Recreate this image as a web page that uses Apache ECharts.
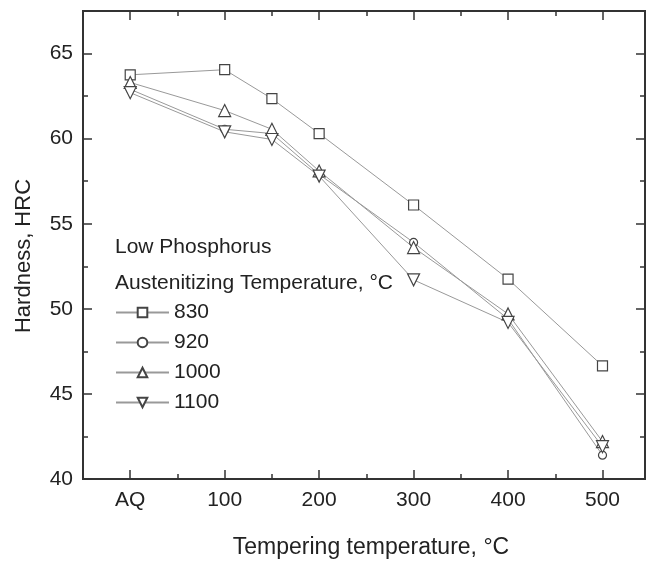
<!DOCTYPE html>
<html>
<head>
<meta charset="utf-8">
<script src="https://cdn.jsdelivr.net/npm/echarts@6/dist/echarts.min.js"></script>
<style>
  html, body { margin: 0; padding: 0; background: #fff; }
  #chart { width: 646px; height: 562px; }
</style>
</head>
<body>
<div id="chart"></div>
<script>
// tempering temperature (AQ = as quenched, drawn at 0)
const tempering = [0, 100, 150, 200, 300, 400, 500];
const xTickLabels = { 0: "AQ", 100: "100", 200: "200", 300: "300", 400: "400", 500: "500" };
const xMajor = [0, 100, 200, 300, 400, 500];
const xMinor = [50, 150, 250, 350, 450];
const yMajor = [40, 45, 50, 55, 60, 65];
const yMinor = [42.5, 47.5, 52.5, 57.5, 62.5];

// hardness HRC for each austenitizing temperature
const hrc830 = [63.75, 64.05, 62.35, 60.3, 56.1, 51.75, 46.65];
const hrc920 = [62.9, 60.55, 60.3, 57.9, 53.9, 49.4, 41.4];
const hrc1000 = [63.3, 61.65, 60.55, 58.1, 53.6, 49.7, 42.2];
const hrc1100 = [62.7, 60.4, 59.95, 57.8, 51.7, 49.2, 41.9];

const FONT = "'Liberation Sans', Arial, sans-serif";
const AXIS_COLOR = "#333";
const TEXT_COLOR = "#222";

const chart = echarts.init(document.getElementById("chart"));

function pairs(ys) {
  return tempering.map((x, i) => [x, ys[i]]);
}

// one axis per tick set, stacked on the same edge
function xAxisFor(pos, ticks, len, labels) {
  return {
    type: "value",
    position: pos,
    min: -50,
    max: 545,
    splitLine: { show: false },
    axisLine: { show: true, onZero: false, lineStyle: { color: AXIS_COLOR, width: 2 } },
    axisTick: { show: true, inside: true, length: len, customValues: ticks,
      lineStyle: { color: AXIS_COLOR, width: 1.5 } },
    axisLabel: labels
      ? { show: true, customValues: xMajor, margin: 11, fontSize: 21, fontFamily: FONT,
          color: TEXT_COLOR, formatter: (v) => xTickLabels[v] || "" }
      : { show: false },
  };
}

function yAxisFor(pos, ticks, len, labels) {
  return {
    type: "value",
    position: pos,
    min: 40,
    max: 67.5,
    splitLine: { show: false },
    axisLine: { show: true, onZero: false, lineStyle: { color: AXIS_COLOR, width: 2 } },
    axisTick: { show: true, inside: true, length: len, customValues: ticks,
      lineStyle: { color: AXIS_COLOR, width: 1.5 } },
    axisLabel: labels
      ? { show: true, customValues: yMajor, margin: 10, fontSize: 21, fontFamily: FONT,
          color: TEXT_COLOR }
      : { show: false },
  };
}

function makeSeries(name, data, symbol, size) {
  return {
    name: name,
    type: "line",
    data: pairs(data),
    symbol: symbol,
    symbolSize: size,
    xAxisIndex: 0,
    yAxisIndex: 0,
    lineStyle: { color: "#999", width: 1 },
    itemStyle: { color: "#fff", borderColor: "#444", borderWidth: 1.2 },
    emphasis: { disabled: true },
    z: 3,
  };
}

const downTri = "path://M0,0L10,0L5,9Z";

const option = {
  backgroundColor: "#fff",
  animation: false,
  grid: { left: 83, right: 1, top: 11, bottom: 83, containLabel: false },
  xAxis: [
    xAxisFor("bottom", xMajor, 9, true),
    xAxisFor("bottom", xMinor, 5, false),
    xAxisFor("top", xMajor, 9, false),
    xAxisFor("top", xMinor, 5, false),
  ],
  yAxis: [
    yAxisFor("left", yMajor, 9, true),
    yAxisFor("left", yMinor, 5, false),
    yAxisFor("right", yMajor, 9, false),
    yAxisFor("right", yMinor, 5, false),
  ],
  legend: {
    orient: "vertical",
    left: 115,
    top: 302,
    padding: 0,
    itemWidth: 53,
    itemHeight: 12,
    itemGap: 9,
    textStyle: { fontSize: 21, fontFamily: FONT, color: TEXT_COLOR },
    data: ["830", "920", "1000", "1100"],
  },
  graphic: [
    { type: "text", left: 115, top: 237,
      style: { text: "Low Phosphorus", font: "21px " + FONT, fill: TEXT_COLOR } },
    { type: "text", left: 115, top: 273,
      style: { text: "Austenitizing Temperature, °C", font: "21px " + FONT, fill: TEXT_COLOR } },
    { type: "text", x: 371, y: 548,
      style: { text: "Tempering temperature, °C", font: "23px " + FONT, fill: TEXT_COLOR,
        align: "center", verticalAlign: "middle" } },
    { type: "text", x: 24, y: 256, rotation: Math.PI / 2,
      style: { text: "Hardness, HRC", font: "22px " + FONT, fill: TEXT_COLOR,
        align: "center", verticalAlign: "middle" } },
  ],
  series: [
    makeSeries("830", hrc830, "rect", 10),
    makeSeries("920", hrc920, "circle", 8),
    makeSeries("1000", hrc1000, "triangle", 12),
    makeSeries("1100", hrc1100, downTri, 12),
  ],
};

chart.setOption(option);
</script>
</body>
</html>
